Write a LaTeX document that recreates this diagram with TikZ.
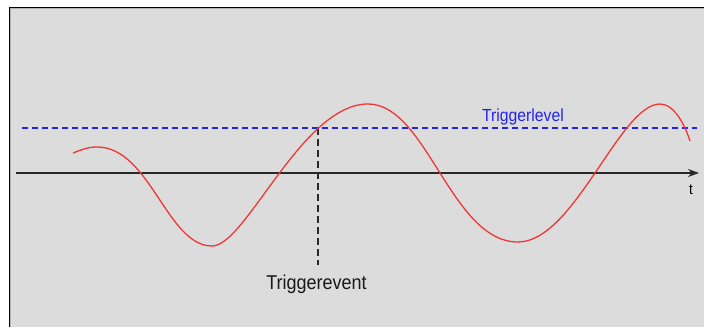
\documentclass[tikz,border=0pt]{standalone}
\usepackage{fontspec}
\setmainfont{Liberation Sans}
\usetikzlibrary{arrows.meta}
\definecolor{bggray}{RGB}{220,220,220}
\definecolor{edgegray}{RGB}{180,180,180}
\definecolor{sigred}{RGB}{240,55,55}
\definecolor{lvlblue}{RGB}{35,35,240}
\definecolor{axisgray}{RGB}{40,40,40}
\tikzset{
  axisline/.style={draw=axisgray,line width=1.3pt,-{Stealth[length=11pt,width=8pt]}},
  levelline/.style={draw=lvlblue,line width=1.4pt,dash pattern=on 6pt off 4pt},
  eventline/.style={draw=axisgray,line width=1.4pt,dash pattern=on 7pt off 4pt},
  signal/.style={draw=sigred,line width=1.3pt},
  lbl/.style={inner sep=0pt,anchor=base,xscale=0.9}
}
\begin{document}
\begin{tikzpicture}[x=1pt,y=1pt]
\useasboundingbox (0,0) rectangle (704,327);
\fill[white] (0,0) rectangle (704,327);
\fill[bggray] (9,0) rectangle (704,320);
\draw[edgegray,line width=1pt] (10.5,0) -- (10.5,318.5) -- (704,318.5);
\draw[black,line width=1.2pt] (9.3,0) -- (9.3,319.7) -- (704,319.7);
% coordinates
\coordinate (ax0) at (16,154);
\coordinate (ax1) at (699,154);
\coordinate (lv0) at (22,199);
\coordinate (lv1) at (697,199);
\coordinate (ev0) at (318,199);
\coordinate (ev1) at (318,62);
% axis and lines
\draw[axisline] (ax0) -- (ax1);
\draw[levelline] (lv0) -- (lv1);
\draw[eventline] (ev0) -- (ev1);
% signal
\coordinate (S) at (73,174);
\coordinate (A) at (97,180);
\coordinate (C) at (212,81);
\coordinate (F) at (368,223);
\coordinate (I) at (518,85);
\coordinate (L) at (660,223);
\coordinate (N) at (690,186);
\draw[signal] (S) .. controls (81,177) and (87,180) .. (A)
  .. controls (150,180) and (167,81) .. (C)
  .. controls (246,81) and (302,223) .. (F)
  .. controls (426.8,223) and (451.2,85) .. (I)
  .. controls (574,85) and (620,223) .. (L)
  .. controls (675,223) and (685.4,200.3) .. (N);
% labels
\node[lbl,text=lvlblue,font=\fontsize{17.5}{20}\selectfont] (tl) at (523,205) {Triggerlevel};
\node[lbl,text=black!90,font=\fontsize{20}{24}\selectfont] (te) at (316.5,38) {Triggerevent};
\node[lbl,text=black,font=\fontsize{15}{18}\selectfont] (tt) at (691,132) {t};
\end{tikzpicture}
\end{document}
